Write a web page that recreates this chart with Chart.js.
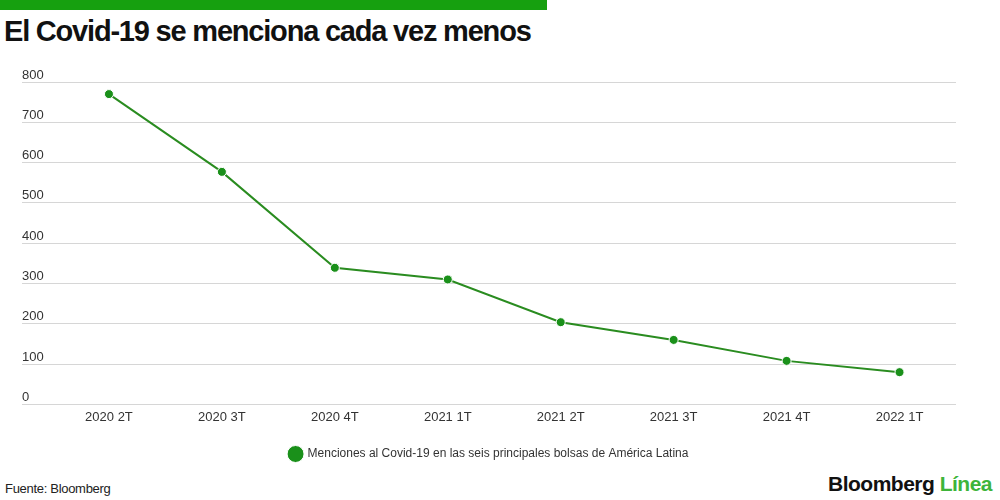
<!DOCTYPE html>
<html lang="es">
<head>
    <meta charset="UTF-8">
    <title>El Covid-19 se menciona cada vez menos</title>
    <script src="https://cdn.jsdelivr.net/npm/chart.js"></script>
    <style>
        body { margin: 0; width: 1000px; height: 500px; background: #fff; position: relative; overflow: hidden; font-family: "Liberation Sans", Arial, sans-serif; }
        .barra { position: absolute; left: 0; top: 0; width: 547px; height: 10px; background: #16a00f; }
        h1 { position: absolute; left: 4px; top: 15px; margin: 0; font-size: 29px; font-weight: bold; letter-spacing: -1.2px; color: #111; }
        .fuente { position: absolute; left: 5px; top: 481px; font-size: 13px; letter-spacing: -0.3px; color: #222; }
        .logo { position: absolute; left: 828px; top: 472px; font-size: 21px; font-weight: bold; letter-spacing: -0.5px; color: #111; }
        .logo span { color: #3db43a; }
        #caixa { position: absolute; left: 0; top: 58px; width: 1000px; height: 412px; }
    </style>
</head>
<body>
    <div class="barra"></div>
    <h1>El Covid-19 se menciona cada vez menos</h1>
    <div id="caixa"><canvas id="grafico1"></canvas></div>
    <div class="fuente">Fuente: Bloomberg</div>
    <div class="logo">Bloomberg <span>Línea</span></div>
    <script>
        const trimestres = ["2020 2T", "2020 3T", "2020 4T", "2021 1T", "2021 2T", "2021 3T", "2021 4T", "2022 1T"]
        const menciones = [770, 577, 339, 310, 204, 160, 108, 80]
        const ticksY = [0, 100, 200, 300, 400, 500, 600, 700, 800]

        const verde = '#1a901a'
        const ctx = document.getElementById('grafico1')

        let grafico1 = new Chart(ctx, {
          type: 'line',
          data: {
            datasets: [{
              label: 'Menciones al Covid-19 en las seis principales bolsas de América Latina',
              data: menciones.map((v, i) => ({ x: i, y: v })),
              borderColor: '#2a8c20',
              backgroundColor: verde,
              borderWidth: 2,
              pointRadius: 4.5,
              pointBorderColor: '#fff',
              pointBorderWidth: 1,
              pointBackgroundColor: verde,
              tension: 0
            }]
          },
          options: {
            responsive: true,
            maintainAspectRatio: false,
            animation: false,
            layout: { padding: { left: 22, right: 44, top: 24, bottom: 0 } },
            scales: {
              x: {
                type: 'linear',
                min: -0.77,
                max: 7.5,
                grid: { display: false },
                border: { display: false },
                afterBuildTicks: axis => { axis.ticks = trimestres.map((t, i) => ({ value: i })) },
                ticks: {
                  callback: v => trimestres[v],
                  color: '#333',
                  padding: -3,
                  maxRotation: 0,
                  font: { family: '"Liberation Sans", Arial, sans-serif', size: 13 }
                }
              },
              y: {
                min: 0,
                max: 800,
                afterBuildTicks: axis => { axis.ticks = ticksY.map(v => ({ value: v })) },
                grid: { color: '#d6d6d6', drawTicks: false },
                border: { display: false },
                ticks: {
                  mirror: true,
                  padding: 0,
                  labelOffset: -7,
                  color: '#333',
                  font: { family: '"Liberation Sans", Arial, sans-serif', size: 13 }
                }
              }
            },
            plugins: {
              legend: {
                position: 'bottom',
                labels: {
                  usePointStyle: true,
                  pointStyle: 'circle',
                  boxWidth: 15,
                  boxHeight: 15,
                  padding: 26,
                  color: '#333',
                  font: { family: '"Liberation Sans", Arial, sans-serif', size: 12 }
                }
              },
              tooltip: { enabled: false }
            }
          }
        });
    </script>
</body>
</html>
